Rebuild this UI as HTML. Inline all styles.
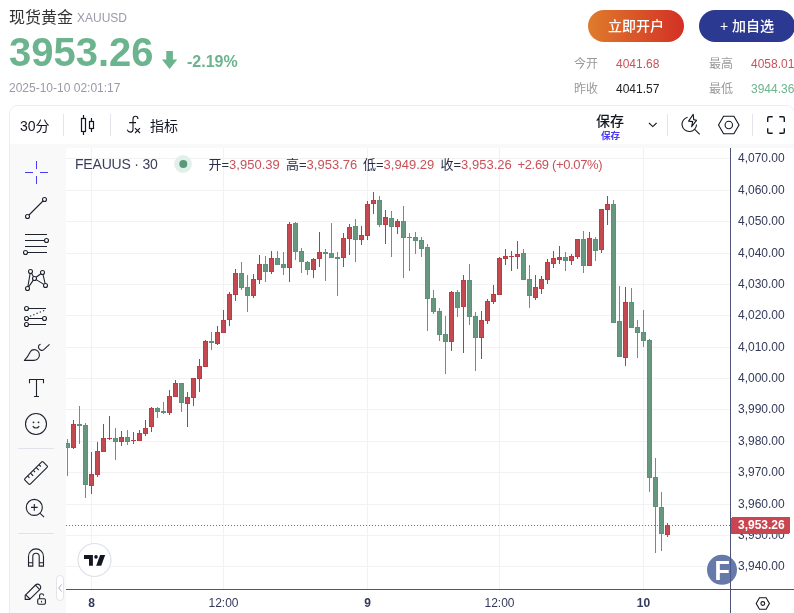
<!DOCTYPE html>
<html lang="zh-CN"><head><meta charset="utf-8"><title>现货黄金 XAUUSD</title>
<style>
html,body{margin:0;padding:0;background:#fff;}
body{width:794px;height:613px;overflow:hidden;position:relative;font-family:"Liberation Sans", "Noto Sans CJK SC", sans-serif;color:#333;}
.abs{position:absolute;white-space:nowrap;line-height:1;}
#widget{position:absolute;left:9px;top:105px;width:786px;height:520px;border:1px solid #ececf1;border-radius:9px;background:#f9f9fa;box-sizing:border-box;overflow:hidden;}
#topbar{position:absolute;left:0;top:0;width:100%;height:38px;background:#fff;}
.ic{position:absolute;overflow:visible;}
.sep{position:absolute;width:1px;background:#e4e5ec;}
.hsep{position:absolute;height:1px;background:#e0e2ec;left:18px;width:36px;}
svg text{font-family:"Liberation Sans", "Noto Sans CJK SC", sans-serif;}
.btn{position:absolute;top:10px;height:32px;width:96px;border-radius:16px;color:#fff;font-size:14px;font-weight:500;line-height:32px;text-align:center;}
.lab{color:#999;font-size:12px;}
.val{font-size:12px;}
.lg{font-size:13px;top:158px;}
.lg b{font-weight:normal;color:#c9515a;}
</style></head><body>
<div class="abs" style="left:9px;top:9.500px;font-size:16px;color:#333;">现货黄金</div>
<div class="abs" style="left:77px;top:12px;font-size:12px;color:#9b99a8;">XAUUSD</div>
<div class="abs" style="left:9px;top:31.500px;font-size:40px;font-weight:bold;color:#6cb48d;">3953.26</div>
<svg class="ic" style="left:161px;top:50px" width="17" height="20" viewBox="0 0 17 20"><path d="M5.300 0.900h6.600v8.600h4.400L8.600 18.900 0.900 9.500h4.400z" fill="#6cb48d"/></svg>
<div class="abs" style="left:187px;top:54px;font-size:16px;font-weight:bold;color:#6cb48d;">-2.19%</div>
<div class="abs" style="left:9px;top:82px;font-size:12px;color:#9b99a8;">2025-10-10 02:01:17</div>

<div class="btn" style="left:588px;background:linear-gradient(90deg,#df7b2c,#d33025);">立即开户</div>
<div class="btn" style="left:699px;background:#2b3990;">+ 加自选</div>

<div class="abs lab" style="left:574px;top:58px;">今开</div>
<div class="abs val" style="left:616px;top:58px;color:#c9525b;">4041.68</div>
<div class="abs lab" style="left:709px;top:58px;">最高</div>
<div class="abs val" style="left:751px;top:58px;color:#c9525b;">4058.01</div>
<div class="abs lab" style="left:574px;top:82.500px;">昨收</div>
<div class="abs val" style="left:616px;top:82.500px;color:#222;">4041.57</div>
<div class="abs lab" style="left:709px;top:82.500px;">最低</div>
<div class="abs val" style="left:751px;top:82.500px;color:#6cb48d;">3944.36</div>

<div id="widget"><div id="topbar"></div></div>
<svg id="chart" width="794" height="613" viewBox="0 0 794 613" style="position:absolute;left:0;top:0" shape-rendering="crispEdges">
<rect x="66" y="148" width="730" height="466" fill="#ffffff"/>
<rect x="66" y="158" width="664" height="1" fill="#f1f2f2"/>
<rect x="66" y="190" width="664" height="1" fill="#f1f2f2"/>
<rect x="66" y="221" width="664" height="1" fill="#f1f2f2"/>
<rect x="66" y="253" width="664" height="1" fill="#f1f2f2"/>
<rect x="66" y="284" width="664" height="1" fill="#f1f2f2"/>
<rect x="66" y="315" width="664" height="1" fill="#f1f2f2"/>
<rect x="66" y="347" width="664" height="1" fill="#f1f2f2"/>
<rect x="66" y="378" width="664" height="1" fill="#f1f2f2"/>
<rect x="66" y="409" width="664" height="1" fill="#f1f2f2"/>
<rect x="66" y="441" width="664" height="1" fill="#f1f2f2"/>
<rect x="66" y="472" width="664" height="1" fill="#f1f2f2"/>
<rect x="66" y="504" width="664" height="1" fill="#f1f2f2"/>
<rect x="66" y="535" width="664" height="1" fill="#f1f2f2"/>
<rect x="66" y="566" width="664" height="1" fill="#f1f2f2"/>
<rect x="91" y="148" width="1" height="441" fill="#f1f2f2"/>
<rect x="223" y="148" width="1" height="441" fill="#f1f2f2"/>
<rect x="367" y="148" width="1" height="441" fill="#f1f2f2"/>
<rect x="499" y="148" width="1" height="441" fill="#f1f2f2"/>
<rect x="643" y="148" width="1" height="441" fill="#f1f2f2"/>
<clipPath id="cc"><rect x="66" y="148" width="664" height="441"/></clipPath>
<g clip-path="url(#cc)">
<rect x="67" y="439" width="1" height="37" fill="#6f9466"/>
<rect x="65" y="443" width="5" height="5" fill="#5c927a"/>
<rect x="66" y="444" width="3" height="3" fill="#66987f"/>
<rect x="73" y="420" width="1" height="29" fill="#a8404f"/>
<rect x="71" y="424" width="5" height="24" fill="#bd3b45"/>
<rect x="72" y="425" width="3" height="22" fill="#c34a51"/>
<rect x="79" y="406" width="1" height="38" fill="#6f9466"/>
<rect x="77" y="424" width="5" height="2" fill="#5c927a"/>
<rect x="85" y="423" width="1" height="75" fill="#6f9466"/>
<rect x="83" y="425" width="5" height="60" fill="#5c927a"/>
<rect x="84" y="426" width="3" height="58" fill="#66987f"/>
<rect x="91" y="452" width="1" height="42" fill="#a8404f"/>
<rect x="89" y="474" width="5" height="12" fill="#bd3b45"/>
<rect x="90" y="475" width="3" height="10" fill="#c34a51"/>
<rect x="97" y="442" width="1" height="35" fill="#a8404f"/>
<rect x="95" y="451" width="5" height="24" fill="#bd3b45"/>
<rect x="96" y="452" width="3" height="22" fill="#c34a51"/>
<rect x="103" y="424" width="1" height="28" fill="#a8404f"/>
<rect x="101" y="438" width="5" height="14" fill="#bd3b45"/>
<rect x="102" y="439" width="3" height="12" fill="#c34a51"/>
<rect x="109" y="416" width="1" height="24" fill="#a8404f"/>
<rect x="107" y="438" width="5" height="1" fill="#bd3b45"/>
<rect x="115" y="428" width="1" height="32" fill="#6f9466"/>
<rect x="113" y="438" width="5" height="4" fill="#5c927a"/>
<rect x="114" y="439" width="3" height="2" fill="#66987f"/>
<rect x="121" y="431" width="1" height="15" fill="#a8404f"/>
<rect x="119" y="437" width="5" height="5" fill="#bd3b45"/>
<rect x="120" y="438" width="3" height="3" fill="#c34a51"/>
<rect x="127" y="430" width="1" height="15" fill="#6f9466"/>
<rect x="125" y="437" width="5" height="5" fill="#5c927a"/>
<rect x="126" y="438" width="3" height="3" fill="#66987f"/>
<rect x="133" y="432" width="1" height="12" fill="#a8404f"/>
<rect x="131" y="440" width="5" height="1" fill="#bd3b45"/>
<rect x="139" y="430" width="1" height="11" fill="#a8404f"/>
<rect x="137" y="433" width="5" height="8" fill="#bd3b45"/>
<rect x="138" y="434" width="3" height="6" fill="#c34a51"/>
<rect x="145" y="420" width="1" height="16" fill="#a8404f"/>
<rect x="143" y="428" width="5" height="6" fill="#bd3b45"/>
<rect x="144" y="429" width="3" height="4" fill="#c34a51"/>
<rect x="151" y="407" width="1" height="25" fill="#a8404f"/>
<rect x="149" y="408" width="5" height="19" fill="#bd3b45"/>
<rect x="150" y="409" width="3" height="17" fill="#c34a51"/>
<rect x="157" y="407" width="1" height="11" fill="#6f9466"/>
<rect x="155" y="408" width="5" height="4" fill="#5c927a"/>
<rect x="156" y="409" width="3" height="2" fill="#66987f"/>
<rect x="163" y="402" width="1" height="12" fill="#6f9466"/>
<rect x="161" y="411" width="5" height="2" fill="#5c927a"/>
<rect x="169" y="390" width="1" height="25" fill="#a8404f"/>
<rect x="167" y="396" width="5" height="17" fill="#bd3b45"/>
<rect x="168" y="397" width="3" height="15" fill="#c34a51"/>
<rect x="175" y="380" width="1" height="17" fill="#a8404f"/>
<rect x="173" y="383" width="5" height="14" fill="#bd3b45"/>
<rect x="174" y="384" width="3" height="12" fill="#c34a51"/>
<rect x="181" y="383" width="1" height="29" fill="#6f9466"/>
<rect x="179" y="383" width="5" height="20" fill="#5c927a"/>
<rect x="180" y="384" width="3" height="18" fill="#66987f"/>
<rect x="187" y="392" width="1" height="35" fill="#a8404f"/>
<rect x="185" y="397" width="5" height="7" fill="#bd3b45"/>
<rect x="186" y="398" width="3" height="5" fill="#c34a51"/>
<rect x="193" y="378" width="1" height="28" fill="#a8404f"/>
<rect x="191" y="378" width="5" height="20" fill="#bd3b45"/>
<rect x="192" y="379" width="3" height="18" fill="#c34a51"/>
<rect x="199" y="359" width="1" height="33" fill="#a8404f"/>
<rect x="197" y="366" width="5" height="13" fill="#bd3b45"/>
<rect x="198" y="367" width="3" height="11" fill="#c34a51"/>
<rect x="205" y="340" width="1" height="27" fill="#a8404f"/>
<rect x="203" y="341" width="5" height="26" fill="#bd3b45"/>
<rect x="204" y="342" width="3" height="24" fill="#c34a51"/>
<rect x="211" y="332" width="1" height="18" fill="#6f9466"/>
<rect x="209" y="341" width="5" height="2" fill="#5c927a"/>
<rect x="217" y="326" width="1" height="19" fill="#a8404f"/>
<rect x="215" y="332" width="5" height="12" fill="#bd3b45"/>
<rect x="216" y="333" width="3" height="10" fill="#c34a51"/>
<rect x="223" y="310" width="1" height="23" fill="#a8404f"/>
<rect x="221" y="320" width="5" height="13" fill="#bd3b45"/>
<rect x="222" y="321" width="3" height="11" fill="#c34a51"/>
<rect x="229" y="292" width="1" height="34" fill="#a8404f"/>
<rect x="227" y="294" width="5" height="26" fill="#bd3b45"/>
<rect x="228" y="295" width="3" height="24" fill="#c34a51"/>
<rect x="235" y="269" width="1" height="32" fill="#a8404f"/>
<rect x="233" y="273" width="5" height="22" fill="#bd3b45"/>
<rect x="234" y="274" width="3" height="20" fill="#c34a51"/>
<rect x="241" y="262" width="1" height="28" fill="#6f9466"/>
<rect x="239" y="273" width="5" height="15" fill="#5c927a"/>
<rect x="240" y="274" width="3" height="13" fill="#66987f"/>
<rect x="247" y="275" width="1" height="37" fill="#6f9466"/>
<rect x="245" y="287" width="5" height="9" fill="#5c927a"/>
<rect x="246" y="288" width="3" height="7" fill="#66987f"/>
<rect x="253" y="274" width="1" height="24" fill="#a8404f"/>
<rect x="251" y="279" width="5" height="17" fill="#bd3b45"/>
<rect x="252" y="280" width="3" height="15" fill="#c34a51"/>
<rect x="259" y="255" width="1" height="29" fill="#a8404f"/>
<rect x="257" y="264" width="5" height="16" fill="#bd3b45"/>
<rect x="258" y="265" width="3" height="14" fill="#c34a51"/>
<rect x="265" y="256" width="1" height="26" fill="#6f9466"/>
<rect x="263" y="264" width="5" height="8" fill="#5c927a"/>
<rect x="264" y="265" width="3" height="6" fill="#66987f"/>
<rect x="271" y="251" width="1" height="23" fill="#a8404f"/>
<rect x="269" y="258" width="5" height="14" fill="#bd3b45"/>
<rect x="270" y="259" width="3" height="12" fill="#c34a51"/>
<rect x="277" y="251" width="1" height="14" fill="#6f9466"/>
<rect x="275" y="258" width="5" height="7" fill="#5c927a"/>
<rect x="276" y="259" width="3" height="5" fill="#66987f"/>
<rect x="283" y="252" width="1" height="23" fill="#6f9466"/>
<rect x="281" y="264" width="5" height="4" fill="#5c927a"/>
<rect x="282" y="265" width="3" height="2" fill="#66987f"/>
<rect x="289" y="222" width="1" height="60" fill="#a8404f"/>
<rect x="287" y="224" width="5" height="44" fill="#bd3b45"/>
<rect x="288" y="225" width="3" height="42" fill="#c34a51"/>
<rect x="295" y="222" width="1" height="38" fill="#6f9466"/>
<rect x="293" y="223" width="5" height="29" fill="#5c927a"/>
<rect x="294" y="224" width="3" height="27" fill="#66987f"/>
<rect x="301" y="248" width="1" height="25" fill="#6f9466"/>
<rect x="299" y="251" width="5" height="11" fill="#5c927a"/>
<rect x="300" y="252" width="3" height="9" fill="#66987f"/>
<rect x="307" y="261" width="1" height="14" fill="#6f9466"/>
<rect x="305" y="262" width="5" height="8" fill="#5c927a"/>
<rect x="306" y="263" width="3" height="6" fill="#66987f"/>
<rect x="313" y="258" width="1" height="20" fill="#a8404f"/>
<rect x="311" y="259" width="5" height="11" fill="#bd3b45"/>
<rect x="312" y="260" width="3" height="9" fill="#c34a51"/>
<rect x="319" y="232" width="1" height="35" fill="#a8404f"/>
<rect x="317" y="252" width="5" height="7" fill="#bd3b45"/>
<rect x="318" y="253" width="3" height="5" fill="#c34a51"/>
<rect x="325" y="249" width="1" height="32" fill="#6f9466"/>
<rect x="323" y="252" width="5" height="2" fill="#5c927a"/>
<rect x="331" y="223" width="1" height="35" fill="#6f9466"/>
<rect x="329" y="253" width="5" height="5" fill="#5c927a"/>
<rect x="330" y="254" width="3" height="3" fill="#66987f"/>
<rect x="337" y="252" width="1" height="44" fill="#6f9466"/>
<rect x="335" y="257" width="5" height="2" fill="#5c927a"/>
<rect x="343" y="233" width="1" height="34" fill="#a8404f"/>
<rect x="341" y="238" width="5" height="20" fill="#bd3b45"/>
<rect x="342" y="239" width="3" height="18" fill="#c34a51"/>
<rect x="349" y="224" width="1" height="31" fill="#a8404f"/>
<rect x="347" y="227" width="5" height="12" fill="#bd3b45"/>
<rect x="348" y="228" width="3" height="10" fill="#c34a51"/>
<rect x="355" y="219" width="1" height="43" fill="#6f9466"/>
<rect x="353" y="226" width="5" height="14" fill="#5c927a"/>
<rect x="354" y="227" width="3" height="12" fill="#66987f"/>
<rect x="361" y="226" width="1" height="19" fill="#a8404f"/>
<rect x="359" y="235" width="5" height="5" fill="#bd3b45"/>
<rect x="360" y="236" width="3" height="3" fill="#c34a51"/>
<rect x="367" y="201" width="1" height="39" fill="#a8404f"/>
<rect x="365" y="204" width="5" height="32" fill="#bd3b45"/>
<rect x="366" y="205" width="3" height="30" fill="#c34a51"/>
<rect x="373" y="192" width="1" height="22" fill="#a8404f"/>
<rect x="371" y="200" width="5" height="4" fill="#bd3b45"/>
<rect x="372" y="201" width="3" height="2" fill="#c34a51"/>
<rect x="379" y="196" width="1" height="31" fill="#6f9466"/>
<rect x="377" y="200" width="5" height="25" fill="#5c927a"/>
<rect x="378" y="201" width="3" height="23" fill="#66987f"/>
<rect x="385" y="210" width="1" height="34" fill="#a8404f"/>
<rect x="383" y="217" width="5" height="8" fill="#bd3b45"/>
<rect x="384" y="218" width="3" height="6" fill="#c34a51"/>
<rect x="391" y="211" width="1" height="46" fill="#6f9466"/>
<rect x="389" y="218" width="5" height="9" fill="#5c927a"/>
<rect x="390" y="219" width="3" height="7" fill="#66987f"/>
<rect x="397" y="219" width="1" height="15" fill="#a8404f"/>
<rect x="395" y="221" width="5" height="6" fill="#bd3b45"/>
<rect x="396" y="222" width="3" height="4" fill="#c34a51"/>
<rect x="403" y="206" width="1" height="72" fill="#6f9466"/>
<rect x="401" y="221" width="5" height="17" fill="#5c927a"/>
<rect x="402" y="222" width="3" height="15" fill="#66987f"/>
<rect x="409" y="233" width="1" height="38" fill="#6f9466"/>
<rect x="407" y="237" width="5" height="1" fill="#5c927a"/>
<rect x="415" y="232" width="1" height="22" fill="#6f9466"/>
<rect x="413" y="237" width="5" height="4" fill="#5c927a"/>
<rect x="414" y="238" width="3" height="2" fill="#66987f"/>
<rect x="421" y="237" width="1" height="20" fill="#6f9466"/>
<rect x="419" y="240" width="5" height="9" fill="#5c927a"/>
<rect x="420" y="241" width="3" height="7" fill="#66987f"/>
<rect x="427" y="244" width="1" height="87" fill="#6f9466"/>
<rect x="425" y="247" width="5" height="52" fill="#5c927a"/>
<rect x="426" y="248" width="3" height="50" fill="#66987f"/>
<rect x="433" y="290" width="1" height="24" fill="#6f9466"/>
<rect x="431" y="298" width="5" height="14" fill="#5c927a"/>
<rect x="432" y="299" width="3" height="12" fill="#66987f"/>
<rect x="439" y="308" width="1" height="33" fill="#6f9466"/>
<rect x="437" y="311" width="5" height="24" fill="#5c927a"/>
<rect x="438" y="312" width="3" height="22" fill="#66987f"/>
<rect x="445" y="316" width="1" height="58" fill="#6f9466"/>
<rect x="443" y="334" width="5" height="8" fill="#5c927a"/>
<rect x="444" y="335" width="3" height="6" fill="#66987f"/>
<rect x="451" y="291" width="1" height="60" fill="#a8404f"/>
<rect x="449" y="292" width="5" height="50" fill="#bd3b45"/>
<rect x="450" y="293" width="3" height="48" fill="#c34a51"/>
<rect x="457" y="290" width="1" height="27" fill="#6f9466"/>
<rect x="455" y="292" width="5" height="16" fill="#5c927a"/>
<rect x="456" y="293" width="3" height="14" fill="#66987f"/>
<rect x="463" y="275" width="1" height="78" fill="#a8404f"/>
<rect x="461" y="280" width="5" height="27" fill="#bd3b45"/>
<rect x="462" y="281" width="3" height="25" fill="#c34a51"/>
<rect x="469" y="264" width="1" height="61" fill="#6f9466"/>
<rect x="467" y="280" width="5" height="37" fill="#5c927a"/>
<rect x="468" y="281" width="3" height="35" fill="#66987f"/>
<rect x="475" y="312" width="1" height="59" fill="#6f9466"/>
<rect x="473" y="316" width="5" height="22" fill="#5c927a"/>
<rect x="474" y="317" width="3" height="20" fill="#66987f"/>
<rect x="481" y="311" width="1" height="48" fill="#a8404f"/>
<rect x="479" y="320" width="5" height="18" fill="#bd3b45"/>
<rect x="480" y="321" width="3" height="16" fill="#c34a51"/>
<rect x="487" y="299" width="1" height="25" fill="#a8404f"/>
<rect x="485" y="301" width="5" height="20" fill="#bd3b45"/>
<rect x="486" y="302" width="3" height="18" fill="#c34a51"/>
<rect x="493" y="285" width="1" height="19" fill="#a8404f"/>
<rect x="491" y="294" width="5" height="8" fill="#bd3b45"/>
<rect x="492" y="295" width="3" height="6" fill="#c34a51"/>
<rect x="499" y="257" width="1" height="38" fill="#a8404f"/>
<rect x="497" y="258" width="5" height="37" fill="#bd3b45"/>
<rect x="498" y="259" width="3" height="35" fill="#c34a51"/>
<rect x="505" y="249" width="1" height="16" fill="#a8404f"/>
<rect x="503" y="256" width="5" height="3" fill="#bd3b45"/>
<rect x="504" y="257" width="3" height="1" fill="#c34a51"/>
<rect x="511" y="251" width="1" height="20" fill="#a8404f"/>
<rect x="509" y="256" width="5" height="1" fill="#bd3b45"/>
<rect x="517" y="241" width="1" height="28" fill="#a8404f"/>
<rect x="515" y="254" width="5" height="3" fill="#bd3b45"/>
<rect x="516" y="255" width="3" height="1" fill="#c34a51"/>
<rect x="523" y="249" width="1" height="31" fill="#6f9466"/>
<rect x="521" y="253" width="5" height="27" fill="#5c927a"/>
<rect x="522" y="254" width="3" height="25" fill="#66987f"/>
<rect x="529" y="265" width="1" height="43" fill="#6f9466"/>
<rect x="527" y="279" width="5" height="17" fill="#5c927a"/>
<rect x="528" y="280" width="3" height="15" fill="#66987f"/>
<rect x="535" y="275" width="1" height="25" fill="#a8404f"/>
<rect x="533" y="287" width="5" height="11" fill="#bd3b45"/>
<rect x="534" y="288" width="3" height="9" fill="#c34a51"/>
<rect x="541" y="276" width="1" height="18" fill="#a8404f"/>
<rect x="539" y="279" width="5" height="10" fill="#bd3b45"/>
<rect x="540" y="280" width="3" height="8" fill="#c34a51"/>
<rect x="547" y="259" width="1" height="25" fill="#a8404f"/>
<rect x="545" y="262" width="5" height="18" fill="#bd3b45"/>
<rect x="546" y="263" width="3" height="16" fill="#c34a51"/>
<rect x="553" y="251" width="1" height="17" fill="#a8404f"/>
<rect x="551" y="258" width="5" height="6" fill="#bd3b45"/>
<rect x="552" y="259" width="3" height="4" fill="#c34a51"/>
<rect x="559" y="246" width="1" height="18" fill="#a8404f"/>
<rect x="557" y="257" width="5" height="3" fill="#bd3b45"/>
<rect x="558" y="258" width="3" height="1" fill="#c34a51"/>
<rect x="565" y="252" width="1" height="19" fill="#6f9466"/>
<rect x="563" y="257" width="5" height="4" fill="#5c927a"/>
<rect x="564" y="258" width="3" height="2" fill="#66987f"/>
<rect x="571" y="254" width="1" height="11" fill="#a8404f"/>
<rect x="569" y="256" width="5" height="5" fill="#bd3b45"/>
<rect x="570" y="257" width="3" height="3" fill="#c34a51"/>
<rect x="577" y="239" width="1" height="20" fill="#a8404f"/>
<rect x="575" y="239" width="5" height="18" fill="#bd3b45"/>
<rect x="576" y="240" width="3" height="16" fill="#c34a51"/>
<rect x="583" y="231" width="1" height="42" fill="#6f9466"/>
<rect x="581" y="239" width="5" height="27" fill="#5c927a"/>
<rect x="582" y="240" width="3" height="25" fill="#66987f"/>
<rect x="589" y="232" width="1" height="34" fill="#a8404f"/>
<rect x="587" y="238" width="5" height="28" fill="#bd3b45"/>
<rect x="588" y="239" width="3" height="26" fill="#c34a51"/>
<rect x="595" y="237" width="1" height="24" fill="#6f9466"/>
<rect x="593" y="239" width="5" height="12" fill="#5c927a"/>
<rect x="594" y="240" width="3" height="10" fill="#66987f"/>
<rect x="601" y="209" width="1" height="44" fill="#a8404f"/>
<rect x="599" y="209" width="5" height="41" fill="#bd3b45"/>
<rect x="600" y="210" width="3" height="39" fill="#c34a51"/>
<rect x="607" y="196" width="1" height="29" fill="#a8404f"/>
<rect x="605" y="204" width="5" height="6" fill="#bd3b45"/>
<rect x="606" y="205" width="3" height="4" fill="#c34a51"/>
<rect x="613" y="200" width="1" height="123" fill="#6f9466"/>
<rect x="611" y="204" width="5" height="119" fill="#5c927a"/>
<rect x="612" y="205" width="3" height="117" fill="#66987f"/>
<rect x="619" y="286" width="1" height="71" fill="#6f9466"/>
<rect x="617" y="321" width="5" height="36" fill="#5c927a"/>
<rect x="618" y="322" width="3" height="34" fill="#66987f"/>
<rect x="625" y="287" width="1" height="79" fill="#a8404f"/>
<rect x="623" y="302" width="5" height="56" fill="#bd3b45"/>
<rect x="624" y="303" width="3" height="54" fill="#c34a51"/>
<rect x="631" y="288" width="1" height="40" fill="#6f9466"/>
<rect x="629" y="302" width="5" height="26" fill="#5c927a"/>
<rect x="630" y="303" width="3" height="24" fill="#66987f"/>
<rect x="637" y="320" width="1" height="38" fill="#6f9466"/>
<rect x="635" y="327" width="5" height="6" fill="#5c927a"/>
<rect x="636" y="328" width="3" height="4" fill="#66987f"/>
<rect x="643" y="310" width="1" height="37" fill="#6f9466"/>
<rect x="641" y="332" width="5" height="9" fill="#5c927a"/>
<rect x="642" y="333" width="3" height="7" fill="#66987f"/>
<rect x="649" y="339" width="1" height="153" fill="#6f9466"/>
<rect x="647" y="340" width="5" height="138" fill="#5c927a"/>
<rect x="648" y="341" width="3" height="136" fill="#66987f"/>
<rect x="655" y="458" width="1" height="95" fill="#6f9466"/>
<rect x="653" y="477" width="5" height="30" fill="#5c927a"/>
<rect x="654" y="478" width="3" height="28" fill="#66987f"/>
<rect x="661" y="492" width="1" height="59" fill="#6f9466"/>
<rect x="659" y="507" width="5" height="27" fill="#5c927a"/>
<rect x="660" y="508" width="3" height="25" fill="#66987f"/>
<rect x="667" y="523" width="1" height="14" fill="#a8404f"/>
<rect x="665" y="525" width="5" height="10" fill="#bd3b45"/>
<rect x="666" y="526" width="3" height="8" fill="#c34a51"/>
</g>
<line x1="66" y1="525.5" x2="730" y2="525.5" stroke="#cf4b55" stroke-width="1" stroke-dasharray="1 2"/>
<rect x="730" y="148" width="1" height="466" fill="#4d5277"/>
<rect x="66" y="589" width="730" height="1" fill="#4d5277"/>
<text x="738" y="161.6" font-size="12" fill="#343a5a" shape-rendering="auto">4,070.00</text>
<text x="738" y="193.6" font-size="12" fill="#343a5a" shape-rendering="auto">4,060.00</text>
<text x="738" y="224.6" font-size="12" fill="#343a5a" shape-rendering="auto">4,050.00</text>
<text x="738" y="256.6" font-size="12" fill="#343a5a" shape-rendering="auto">4,040.00</text>
<text x="738" y="287.6" font-size="12" fill="#343a5a" shape-rendering="auto">4,030.00</text>
<text x="738" y="318.6" font-size="12" fill="#343a5a" shape-rendering="auto">4,020.00</text>
<text x="738" y="350.6" font-size="12" fill="#343a5a" shape-rendering="auto">4,010.00</text>
<text x="738" y="381.6" font-size="12" fill="#343a5a" shape-rendering="auto">4,000.00</text>
<text x="738" y="412.6" font-size="12" fill="#343a5a" shape-rendering="auto">3,990.00</text>
<text x="738" y="444.6" font-size="12" fill="#343a5a" shape-rendering="auto">3,980.00</text>
<text x="738" y="475.6" font-size="12" fill="#343a5a" shape-rendering="auto">3,970.00</text>
<text x="738" y="507.6" font-size="12" fill="#343a5a" shape-rendering="auto">3,960.00</text>
<text x="738" y="538.6" font-size="12" fill="#343a5a" shape-rendering="auto">3,950.00</text>
<text x="738" y="569.6" font-size="12" fill="#343a5a" shape-rendering="auto">3,940.00</text>
<rect x="731" y="517" width="59" height="17" rx="2" fill="#c9454f"/>
<text x="738" y="529.200" font-size="12" font-weight="bold" fill="#ffffff">3,953.26</text>
<text x="91.5" y="607" font-size="12" text-anchor="middle" fill="#343a5a" font-weight="bold">8</text>
<text x="223.5" y="607" font-size="12" text-anchor="middle" fill="#343a5a">12:00</text>
<text x="367.5" y="607" font-size="12" text-anchor="middle" fill="#343a5a" font-weight="bold">9</text>
<text x="499.5" y="607" font-size="12" text-anchor="middle" fill="#343a5a">12:00</text>
<text x="643.5" y="607" font-size="12" text-anchor="middle" fill="#343a5a" font-weight="bold">10</text>
<g shape-rendering="auto"><circle cx="722" cy="569.8" r="15" fill="#465c96" fill-opacity="0.82"/><text transform="translate(714.600 580.100) scale(0.915 1)" font-size="27.500" font-weight="bold" fill="#ffffff">F</text></g>
<g shape-rendering="auto"><circle cx="94.5" cy="560" r="16.5" fill="#ffffff" stroke="#dfe1ea" stroke-width="1.200"/><path d="M84 555.1h8.9v10.7h-3.9v-6.9h-5z" fill="#131722"/><circle cx="96" cy="556.9" r="1.8" fill="#131722"/><path d="M100.1 555.1h5.1l-4 10.7h-5z" fill="#131722"/></g>
<g shape-rendering="auto" fill="none" stroke="#131722" stroke-width="1.1"><path d="M756.2 603.5l3.3-5.8h6.6l3.3 5.8-3.3 5.8h-6.6z"/><circle cx="762.8" cy="603.5" r="1.9"/></g>
</svg>

<!-- top toolbar -->
<div class="abs" style="left:20px;top:119px;font-size:14px;color:#131722;">30分</div>
<div class="sep" style="left:63px;top:114px;height:22px;"></div>
<svg class="ic" style="left:74px;top:111px" width="28" height="28" viewBox="0 0 28 28" fill="none" stroke="#131722" stroke-width="1.200"><rect x="7.500" y="7.500" width="4" height="13"/><path d="M9.500 4v3.500M9.500 20.500V24M17.500 7v3.500M17.500 17.500V21"/><rect x="15.500" y="10.500" width="4" height="7"/></svg>
<div class="sep" style="left:110px;top:114px;height:22px;"></div>
<svg class="ic" style="left:124px;top:111px" width="28" height="28" viewBox="0 0 28 28" fill="none" stroke="#131722" stroke-width="1.100"><path d="M14 8.100C14 4.300 9 4.300 9 8.100V18.200C9 22 4.200 22 3.200 18.700M5.200 11.600h6.800M11 17.200l5 4.800M16 17.200l-5 4.800"/></svg>
<div class="abs" style="left:150px;top:119px;font-size:14px;color:#131722;">指标</div>

<div class="abs" style="left:596px;top:114px;font-size:14px;font-weight:500;color:#131722;">保存</div>
<div class="abs" style="left:601px;top:130.500px;font-size:9.600px;font-weight:bold;color:#4a3cf0;">保存</div>
<svg class="ic" style="left:647px;top:120px" width="12" height="10" viewBox="0 0 12 10" fill="none" stroke="#131722" stroke-width="1.100"><path d="M2 3l3.800 3.600L9.600 3"/></svg>
<div class="sep" style="left:667px;top:114px;height:22px;"></div>
<svg class="ic" style="left:677px;top:111px" width="28" height="28" viewBox="0 0 28 28" fill="none" stroke="#131722" stroke-width="1.100"><path d="M10.600 6.250A7.250 7.250 0 1 0 19.550 13.500M18 18.700l4.700 4.700"/><path d="M16.200 3.200L11.600 10.100l4.100 0.500-1.100 5 4.900-6.300-2.800-0.700z" stroke-linejoin="round"/></svg>
<svg class="ic" style="left:715px;top:111px" width="28" height="28" viewBox="0 0 28 28" fill="none" stroke="#131722" stroke-width="1.100"><path d="M3.500 14l5.100-8.800h10.300l5.100 8.800-5.100 8.800H8.600z"/><circle cx="13.800" cy="14" r="3.700"/></svg>
<div class="sep" style="left:752px;top:114px;height:22px;"></div>
<svg class="ic" style="left:762px;top:111px" width="28" height="28" viewBox="0 0 28 28" fill="none" stroke="#131722" stroke-width="1.400"><path d="M5.700 11V7.200c0-0.800 0.600-1.400 1.400-1.400h3.600M17.300 5.800h3.600c0.800 0 1.400 0.600 1.400 1.400V11M22.300 17.300v3.600c0 0.800-0.600 1.400-1.400 1.400h-3.600M10.700 22.300H7.100c-0.800 0-1.400-0.600-1.400-1.400v-3.600"/></svg>

<!-- left toolbar -->
<svg class="ic" style="left:22px;top:158px" width="28" height="28" viewBox="0 0 28 28" shape-rendering="crispEdges" fill="#4a3cf5"><rect x="3" y="14" width="8" height="1"/><rect x="18" y="14" width="8" height="1"/><rect x="14" y="3" width="1" height="8"/><rect x="14" y="18" width="1" height="8"/></svg>
<svg class="ic" style="left:22px;top:194px" width="28" height="28" viewBox="0 0 28 28" fill="none" stroke="#1e222d" stroke-width="1.1"><circle cx="22.5" cy="5.5" r="2"/><circle cx="5.5" cy="22.5" r="2"/><path d="M7 21L21 7"/></svg>
<svg class="ic" style="left:22px;top:230px" width="28" height="28" viewBox="0 0 28 28" fill="none" stroke="#1e222d" stroke-width="1.1"><path d="M3 4.500h22M3 10.500h19.500M3 16.500h22M5.500 22.500h19.500"/><circle cx="24.500" cy="10.500" r="2"/><circle cx="3.500" cy="22.500" r="2"/></svg>
<svg class="ic" style="left:22px;top:266px" width="28" height="28" viewBox="0 0 28 28" fill="none" stroke="#1e222d" stroke-width="1.1"><circle cx="8.500" cy="5.500" r="2"/><circle cx="20.500" cy="6.500" r="2"/><circle cx="12.500" cy="12.500" r="2"/><circle cx="23.500" cy="19.500" r="2"/><circle cx="5.500" cy="22.500" r="2"/><path d="M5.900 20.500L8.100 7.500M9.500 7.300l2 3.400M14.100 11.300l4.800-3.600M21 8.500l2.100 9M21.800 18.400l-7.600-4.800M11.300 14.100l-4.600 6.800"/></svg>
<svg class="ic" style="left:22px;top:302px" width="28" height="28" viewBox="0 0 28 28" fill="none" stroke="#1e222d" stroke-width="1.1"><circle cx="4.500" cy="6.500" r="2"/><circle cx="4.500" cy="16.500" r="2"/><circle cx="22.500" cy="16.500" r="2"/><circle cx="4.500" cy="22.500" r="2"/><path d="M6.500 6.500H24M6.500 16.500h14M6.500 22.500H24"/><path d="M8 14.200L23 8.200" stroke-dasharray="1.300 2.200"/></svg>
<svg class="ic" style="left:22px;top:338px" width="28" height="28" viewBox="0 0 28 28" fill="none" stroke="#1e222d" stroke-width="1.1"><path d="M2.400 22.400C5 20 7 16.500 8.500 13.500 9.500 11.800 11 11.600 12.200 11.600c2.800 0 5.200 2.400 5.200 5.300 0 3.100-2.600 5.500-5.700 5.500z" stroke-linejoin="round"/><path d="M18.600 6.200C16.500 6.800 15.800 8.800 17 10.600c1.300 2 3.300 2.300 4.800 1L27.500 6.400"/></svg>
<svg class="ic" style="left:22px;top:374px" width="28" height="28" viewBox="0 0 28 28" fill="none" stroke="#1e222d" stroke-width="1.1"><path d="M7.500 9.300V5.500h14v3.800M14.500 5.500v17M12 22.500h5"/></svg>
<svg class="ic" style="left:22px;top:410px" width="28" height="28" viewBox="0 0 28 28" fill="none" stroke="#1e222d" stroke-width="1.1"><circle cx="14" cy="14" r="10.500"/><circle cx="11.500" cy="12.300" r="0.900" fill="#1e222d" stroke="none"/><circle cx="16.500" cy="12.300" r="0.900" fill="#1e222d" stroke="none"/><path d="M10.800 16.100c1.700 2.600 4.700 2.600 6.400 0"/></svg>
<svg class="ic" style="left:22px;top:459px" width="28" height="28" viewBox="0 0 28 28" fill="none" stroke="#1e222d" stroke-width="1.1"><g transform="rotate(-45 14 14)"><rect x="1.100" y="10.200" width="25.800" height="7.600" rx="1"/><path d="M6 10.200v2.600M10 10.200v3.700M14 10.200v2.600M18 10.200v3.700M22 10.200v2.600"/></g></svg>
<svg class="ic" style="left:22px;top:495px" width="28" height="28" viewBox="0 0 28 28" fill="none" stroke="#1e222d" stroke-width="1.1"><circle cx="12.300" cy="12.400" r="8"/><path d="M9 12.400h6.600M12.300 9.100v6.600M18.100 18.300l4 3.800"/></svg>
<svg class="ic" style="left:22px;top:544px" width="28" height="28" viewBox="0 0 28 28" fill="none" stroke="#1e222d" stroke-width="1.1"><path d="M6.500 22.100V12.400a7.500 7.500 0 0 1 15 0v9.700h-4.300V12.400a3.200 3.200 0 0 0-6.400 0v9.700z"/><path d="M6.500 18.700h4.300M17.200 18.700h4.300"/></svg>
<svg class="ic" style="left:22px;top:580px" width="28" height="28" viewBox="0 0 28 28" fill="none" stroke="#1e222d" stroke-width="1.1"><path d="M3.200 19.400V15.300L13.500 5C14.700 3.900 16.600 4 17.800 5.200c1.200 1.200 1.300 3 0.100 4.200L7.700 19.400z" stroke-linejoin="round"/><path d="M3.700 14.900l4.400 4.100M13.400 5.200l4.300 4.400"/><rect x="15.700" y="18.700" width="7.700" height="5.600" rx="1.200"/><path d="M17.600 18.700v-2.900a2 2 0 0 1 4-0.200"/><rect x="19.050" y="20.800" width="1" height="1.700" fill="#1e222d" stroke="none"/></svg>
<div class="hsep" style="top:448px;"></div>
<div class="hsep" style="top:533px;"></div>
<div class="abs" style="left:56px;top:575px;width:8px;height:26px;border:1px solid #e3e4ec;border-radius:5px;background:#fff;box-sizing:border-box;"></div>
<svg class="ic" style="left:56px;top:582px" width="8" height="12" viewBox="0 0 8 12" fill="none" stroke="#a9acb8" stroke-width="1"><path d="M5.500 2.500L2.800 6l2.700 3.500"/></svg>

<!-- legend -->
<div class="abs" style="left:75px;top:157px;font-size:14px;color:#3a3e5c;letter-spacing:-0.200px;">FEAUUS · 30</div>
<svg class="ic" style="left:174px;top:155px" width="18" height="18" viewBox="0 0 18 18"><circle cx="9" cy="9" r="8.900" fill="#e2f0ea"/><circle cx="9.300" cy="9.100" r="4" fill="#5a9a7b"/></svg>
<div class="abs lg" style="left:208.500px;color:#2a2e48;">开=<b>3,950.39</b></div>
<div class="abs lg" style="left:286px;color:#2a2e48;">高=<b>3,953.76</b></div>
<div class="abs lg" style="left:363px;color:#2a2e48;">低=<b>3,949.29</b></div>
<div class="abs lg" style="left:440.500px;color:#2a2e48;">收=<b>3,953.26</b></div>
<div class="abs lg" style="left:517.500px;color:#c9515a;letter-spacing:-0.350px;">+2.69 (+0.07%)</div>
</body></html>
